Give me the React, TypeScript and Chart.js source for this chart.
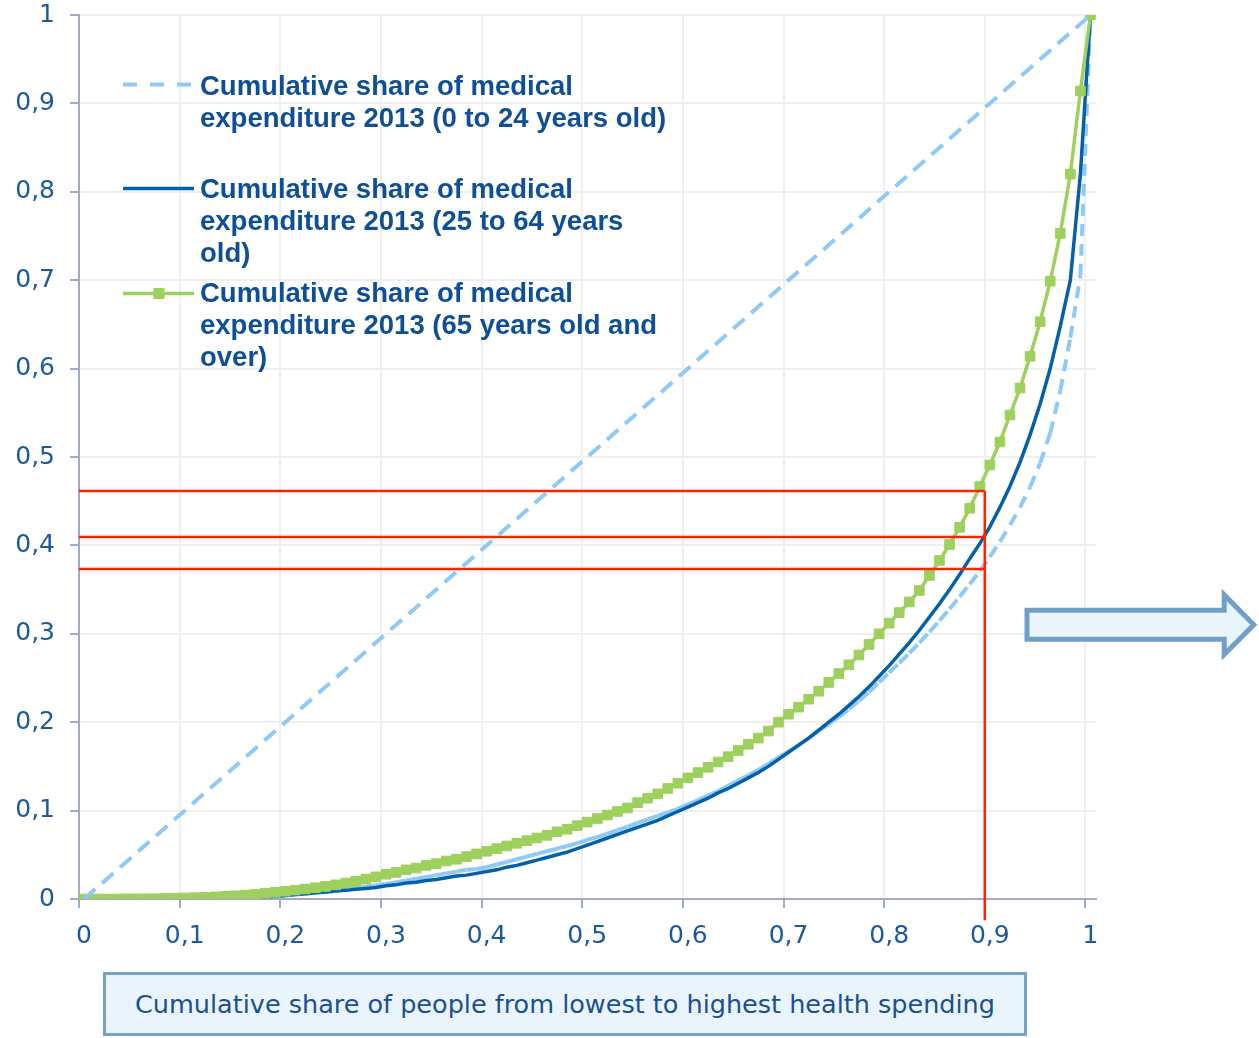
import React, { useEffect, useRef } from 'react';
import { Chart, registerables } from 'chart.js';

Chart.register(...registerables);

// Categories: cumulative share of people (0 .. 1 by 0.01)
const CATEGORIES = [
  '0', '0.01', '0.02', '0.03', '0.04', '0.05', '0.06', '0.07', '0.08', '0.09',
  '0.1', '0.11', '0.12', '0.13', '0.14', '0.15', '0.16', '0.17', '0.18', '0.19',
  '0.2', '0.21', '0.22', '0.23', '0.24', '0.25', '0.26', '0.27', '0.28', '0.29',
  '0.3', '0.31', '0.32', '0.33', '0.34', '0.35', '0.36', '0.37', '0.38', '0.39',
  '0.4', '0.41', '0.42', '0.43', '0.44', '0.45', '0.46', '0.47', '0.48', '0.49',
  '0.5', '0.51', '0.52', '0.53', '0.54', '0.55', '0.56', '0.57', '0.58', '0.59',
  '0.6', '0.61', '0.62', '0.63', '0.64', '0.65', '0.66', '0.67', '0.68', '0.69',
  '0.7', '0.71', '0.72', '0.73', '0.74', '0.75', '0.76', '0.77', '0.78', '0.79',
  '0.8', '0.81', '0.82', '0.83', '0.84', '0.85', '0.86', '0.87', '0.88', '0.89',
  '0.9', '0.91', '0.92', '0.93', '0.94', '0.95', '0.96', '0.97', '0.98', '0.99',
  '1',
];

// 0 to 24 years old
const SHARE_0_24 = [
  0, 0, 0, 0, 0, 0, 0, 0, 0, 0,
  0, 0, 0, 0, 0, 0.0005, 0.001, 0.0015, 0.002, 0.003,
  0.004, 0.005, 0.006, 0.007, 0.008, 0.0095, 0.011, 0.0125, 0.014, 0.0155,
  0.017, 0.019, 0.021, 0.023, 0.025, 0.027, 0.029, 0.031, 0.033, 0.034,
  0.036, 0.039, 0.042, 0.045, 0.048, 0.051, 0.054, 0.057, 0.06, 0.063,
  0.067, 0.07, 0.074, 0.078, 0.082, 0.086, 0.09, 0.094, 0.098, 0.102,
  0.107, 0.112, 0.117, 0.122, 0.128, 0.134, 0.14, 0.146, 0.153, 0.16,
  0.167, 0.174, 0.182, 0.19, 0.198, 0.206, 0.215, 0.224, 0.234, 0.245,
  0.256, 0.267, 0.278, 0.29, 0.302, 0.315, 0.328, 0.342, 0.356, 0.371,
  0.387, 0.404, 0.423, 0.443, 0.466, 0.493, 0.527, 0.575, 0.635, 0.705,
  1,
];

// 25 to 64 years old
const SHARE_25_64 = [
  0, 0, 0, 0, 0, 0, 0, 0, 0, 0,
  0, 0, 0, 0, 0, 0.0005, 0.001, 0.0015, 0.002, 0.003,
  0.004, 0.005, 0.006, 0.007, 0.008, 0.009, 0.01, 0.011, 0.012, 0.013,
  0.015, 0.016, 0.018, 0.019, 0.021, 0.022, 0.024, 0.026, 0.027, 0.029,
  0.031, 0.033, 0.036, 0.038, 0.041, 0.044, 0.047, 0.05, 0.053, 0.057,
  0.061, 0.065, 0.069, 0.073, 0.077, 0.081, 0.085, 0.089, 0.094, 0.099,
  0.104, 0.109, 0.114, 0.12, 0.125, 0.131, 0.137, 0.143, 0.15, 0.158,
  0.166, 0.174, 0.182, 0.191, 0.2, 0.209, 0.219, 0.229, 0.24, 0.252,
  0.264, 0.277, 0.29, 0.304, 0.319, 0.334, 0.35, 0.367, 0.385, 0.402,
  0.421, 0.443, 0.467, 0.494, 0.525, 0.56, 0.6, 0.648, 0.7, 0.82,
  1,
];

// 65 years old and over
const SHARE_65_PLUS = [
  0, 0, 0, 0, 0.0001, 0.0001, 0.0002, 0.0003, 0.0005, 0.0007,
  0.0012, 0.0015, 0.0019, 0.0024, 0.003, 0.0037, 0.0045, 0.0054, 0.0064, 0.0075,
  0.0087, 0.01, 0.0113, 0.0127, 0.0142, 0.016, 0.018, 0.02, 0.0225, 0.025,
  0.028, 0.03, 0.033, 0.035, 0.038, 0.04, 0.043, 0.045, 0.048, 0.051,
  0.054, 0.057, 0.06, 0.063, 0.066, 0.069, 0.072, 0.076, 0.079, 0.083,
  0.087, 0.091, 0.095, 0.099, 0.103, 0.109, 0.114, 0.119, 0.125, 0.131,
  0.137, 0.143, 0.149, 0.155, 0.161, 0.168, 0.175, 0.182, 0.19, 0.2,
  0.209, 0.217, 0.226, 0.235, 0.245, 0.255, 0.265, 0.276, 0.288, 0.3,
  0.312, 0.324, 0.336, 0.349, 0.366, 0.383, 0.401, 0.4205, 0.442, 0.4665,
  0.491, 0.517, 0.5475, 0.578, 0.614, 0.653, 0.699, 0.753, 0.82, 0.914,
  1,
];

// Line of equality
const EQUALITY = [
  { x: '0', y: 0 },
  { x: '1', y: 1 },
];

// Red reference lines (x = 0.9)
const REF_X = 0.9;
const REF_LEVELS = [0.4615, 0.4095, 0.3733];
const REF_BOTTOM = -0.024;

const LEGEND_LABELS = [
  ['Cumulative share of medical', 'expenditure 2013 (0 to 24 years old)'],
  ['Cumulative share of medical', 'expenditure 2013 (25 to 64 years', 'old)'],
  ['Cumulative share of medical', 'expenditure 2013 (65 years old and', 'over)'],
];

const AXIS_TITLE = 'Cumulative share of people from lowest to highest health spending';

const LIGHT_BLUE = '#8fc9f7';
const DARK_BLUE = '#0560aa';
const GREEN = '#9dd05c';
const RED = '#ff2200';
const AXIS_COLOR = '#a3aac8';
const GRID_COLOR = '#efefef';
const TICK_TEXT = '#1b5aa0';
const LEGEND_TEXT = '#0e4f98';

const fmt = (s: string) => s.replace('.', ',');

export default function App() {
  const ref = useRef<HTMLCanvasElement>(null);

  useEffect(() => {
    const canvas = ref.current;
    if (!canvas) return;
    const tickFont = { family: 'DejaVu Sans', size: 25 };
    const refSets: any[] = REF_LEVELS.map((level) => ({
      label: 'ref',
      xAxisID: 'xr',
      data: [
        { x: 0, y: level },
        { x: REF_X, y: level },
      ],
      borderColor: RED,
      borderWidth: 2.5,
      pointRadius: 0,
      clip: false,
    }));
    refSets.push({
      label: 'ref-v',
      xAxisID: 'xr',
      data: [
        { x: REF_X, y: REF_LEVELS[0] },
        { x: REF_X, y: REF_BOTTOM },
      ],
      borderColor: RED,
      borderWidth: 2.5,
      pointRadius: 0,
      clip: false,
    });

    const chart = new Chart(canvas, {
      type: 'line',
      data: {
        labels: CATEGORIES,
        datasets: [
          ...refSets,
          {
            label: 'equality',
            xAxisID: 'x',
            data: EQUALITY as any,
            borderColor: LIGHT_BLUE,
            borderWidth: 4,
            borderDash: [15, 9],
            pointRadius: 0,
          },
          {
            label: '65+',
            xAxisID: 'x',
            data: SHARE_65_PLUS,
            borderColor: GREEN,
            borderWidth: 3.5,
            pointStyle: 'rect',
            pointRadius: 6.8,
            pointBackgroundColor: GREEN,
            pointBorderColor: GREEN,
            pointBorderWidth: 1,
          },
          {
            label: '25-64',
            xAxisID: 'x',
            data: SHARE_25_64,
            borderColor: DARK_BLUE,
            borderWidth: 3.5,
            pointRadius: 0,
          },
          {
            label: '0-24',
            xAxisID: 'x',
            data: SHARE_0_24,
            borderColor: LIGHT_BLUE,
            borderWidth: 4,
            borderDash: [12, 8],
            pointRadius: 0,
            segment: {
              borderDash: () => [12, 8],
              borderDashOffset: (ctx: any) => (ctx.p0DataIndex % 2 ? 0.001 : 0),
            },
          },
        ],
      },
      options: {
        responsive: false,
        animation: false,
        events: [],
        layout: { padding: { left: 0, top: 15, right: 163.5, bottom: 79 } },
        plugins: {
          legend: { display: false },
          tooltip: { enabled: false },
        },
        scales: {
          x: {
            type: 'category',
            position: 'bottom',
            offset: true,
            grid: {
              offset: true,
              lineWidth: 2,
              color: (ctx: any) =>
                ctx.index !== undefined && ctx.index % 10 === 0 ? GRID_COLOR : 'rgba(0,0,0,0)',
              tickColor: (ctx: any) =>
                ctx.index !== undefined && ctx.index % 10 === 0 ? AXIS_COLOR : 'rgba(0,0,0,0)',
              tickLength: 9,
              tickWidth: 2,
            },
            border: { color: AXIS_COLOR, width: 2 },
            ticks: {
              autoSkip: false,
              maxRotation: 0,
              minRotation: 0,
              padding: 13,
              color: TICK_TEXT,
              font: tickFont,
              callback: (_v: any, i: number) => (i % 10 === 0 ? fmt(CATEGORIES[i]) : ''),
            },
            afterFit: (s: any) => {
              s.height = 60;
              s.paddingLeft = 0;
              s.paddingRight = 0;
            },
          },
          xr: {
            type: 'linear',
            axis: 'x',
            position: 'bottom',
            display: false,
            min: 0,
            max: 1.01,
          },
          y: {
            type: 'linear',
            min: 0,
            max: 1,
            grid: {
              color: GRID_COLOR,
              lineWidth: 2,
              tickColor: AXIS_COLOR,
              tickLength: 9,
              tickWidth: 2,
            },
            border: { color: AXIS_COLOR, width: 2 },
            ticks: {
              stepSize: 0.1,
              padding: 15,
              color: TICK_TEXT,
              font: tickFont,
              callback: (v: any) => fmt(String(Math.round(Number(v) * 10) / 10)),
            },
            afterFit: (s: any) => {
              s.width = 79;
              s.paddingTop = 0;
              s.paddingBottom = 0;
            },
          },
        },
      } as any,
    });
    return () => chart.destroy();
  }, []);

  const legendTops = [69.7, 173, 277.4];
  const sampleY = [84.5, 188.5, 293.5];

  return (
    <div style={{ position: 'absolute', left: 0, top: 0, width: 1259, height: 1038, background: '#fff' }}>
      <canvas ref={ref} width={1259} height={1038} style={{ position: 'absolute', left: 0, top: 0, width: 1259, height: 1038 }} />
      <svg width={1259} height={1038} style={{ position: 'absolute', left: 0, top: 0, pointerEvents: 'none' }}>
        <line x1={123} x2={194} y1={sampleY[0]} y2={sampleY[0]} stroke={LIGHT_BLUE} strokeWidth={4} strokeDasharray="14 13" />
        <line x1={123} x2={194} y1={sampleY[1]} y2={sampleY[1]} stroke={DARK_BLUE} strokeWidth={3.5} />
        <line x1={123} x2={194} y1={sampleY[2]} y2={sampleY[2]} stroke={GREEN} strokeWidth={3.5} />
        <rect x={153.5} y={sampleY[2] - 5.5} width={11} height={11} fill={GREEN} />
        <polygon
          points="1027,610.2 1224.2,610.2 1224.2,594.9 1253.8,624.7 1224.2,654.5 1224.2,639.2 1027,639.2"
          fill="#eaf4fd"
          stroke="#70a0c8"
          strokeWidth={5}
          strokeLinejoin="miter"
        />
      </svg>
      {LEGEND_LABELS.map((lines, i) => (
        <div
          key={i}
          style={{
            position: 'absolute',
            left: 200,
            top: legendTops[i],
            fontFamily: '"Liberation Sans", Arial, sans-serif',
            fontWeight: 700,
            fontSize: 27.5,
            lineHeight: '32px',
            color: LEGEND_TEXT,
            whiteSpace: 'nowrap',
          }}
        >
          {lines.map((t, j) => (
            <div key={j}>{t}</div>
          ))}
        </div>
      ))}
      <div
        style={{
          position: 'absolute',
          left: 103,
          top: 972,
          width: 924,
          height: 64,
          boxSizing: 'border-box',
          border: '3px solid #76a1c9',
          background: '#eaf4fc',
          display: 'flex',
          alignItems: 'center',
          justifyContent: 'center',
          fontFamily: '"DejaVu Sans", sans-serif',
          fontSize: 25.5,
          color: '#1a4f94',
          whiteSpace: 'nowrap',
        }}
      >
        {AXIS_TITLE}
      </div>
    </div>
  );
}
